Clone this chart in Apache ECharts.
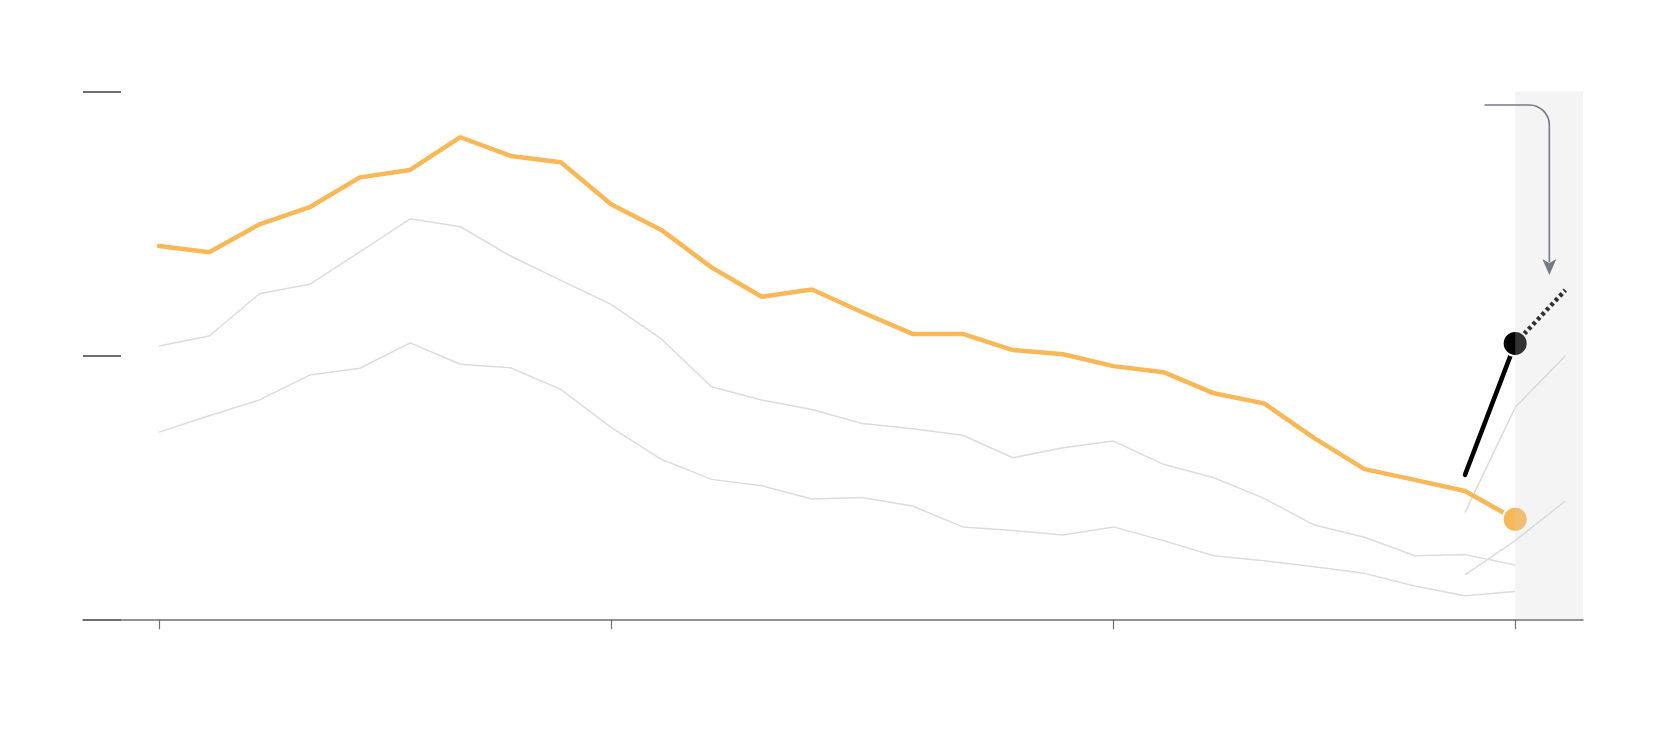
<!DOCTYPE html>
<html>
<head>
<meta charset="utf-8">
<script src="https://cdn.jsdelivr.net/npm/echarts@6/dist/echarts.min.js"></script>
<style>
  html, body { margin: 0; padding: 0; background: #ffffff; }
  #chart { width: 1666px; height: 750px; }
</style>
</head>
<body>
<div id="chart"></div>
<script>
// ---- data (x = period index, y = value) ----
const periods = [0,1,2,3,4,5,6,7,8,9,10,11,12,13,14,15,16,17,18,19,20,21,22,23,24,25,26,27];
const mainSeries = [14.14,13.90,14.96,15.61,16.74,17.02,18.26,17.55,17.31,15.72,14.75,13.33,12.22,12.49,11.63,10.81,10.81,10.20,10.04,9.59,9.36,8.56,8.18,6.86,5.69,5.28,4.86,3.79];
const greyUpper = [10.35,10.73,12.33,12.69,13.92,15.17,14.87,13.76,12.84,11.93,10.62,8.81,8.31,7.95,7.42,7.22,6.97,6.12,6.50,6.75,5.87,5.36,4.58,3.57,3.11,2.41,2.45,2.06];
const greyLower = [7.09,7.71,8.31,9.25,9.51,10.47,9.66,9.53,8.71,7.27,6.06,5.30,5.06,4.56,4.61,4.29,3.50,3.36,3.19,3.50,2.98,2.41,2.22,1.99,1.74,1.26,0.89,1.05];
const shortPeriods = [26, 27, 28];
const shortUpper = [4.04, 8.03, 9.98];
const shortLower = [1.68, 2.98, 4.48];
const jumpPeriods = [26, 27];
const jumpValues = [5.47, 10.45];
const projPeriods = [27, 28];
const projValues = [10.45, 12.47];
const tickPeriods = [0, 9, 19, 27];
const yTicks = [0, 10, 20];
const bandRange = [27, 28.35];          // shaded period
const arrowPath = [26.39, 19.48, 27.68, 13.04]; // startX, y, cornerX, tipY

// ---- build ----
const pairs = (xs, ys) => ys.map((v, i) => [xs[i], v]);
const X_MIN = -1.513, X_MAX = bandRange[1];
const Y_MIN = yTicks[0], Y_MAX = yTicks[yTicks.length - 1];
const grey = '#dcdcdc';
const orange = '#F9B857';
const axisGrey = '#6b6f76';

const chart = echarts.init(document.getElementById('chart'), null, { renderer: 'canvas' });

const greyLine = (data) => ({
  type: 'line', data, symbol: 'none', silent: true, z: 2,
  lineStyle: { color: grey, width: 1.5 }
});

chart.setOption({
  backgroundColor: '#ffffff',
  animation: false,
  grid: { left: 83, right: 83, top: 91.3, bottom: 130.7, containLabel: false },
  xAxis: {
    type: 'value', min: X_MIN, max: X_MAX, z: 1,
    axisLine: { show: true, onZero: false, lineStyle: { color: axisGrey, width: 1.6 } },
    axisTick: { show: true, customValues: tickPeriods, length: 10, lineStyle: { color: axisGrey, width: 1.2 } },
    axisLabel: { show: false },
    splitLine: { show: false }
  },
  yAxis: {
    type: 'value', min: Y_MIN, max: Y_MAX, interval: yTicks[1] - yTicks[0], z: 0,
    axisLine: { show: false, onZero: false },
    axisTick: { show: true, inside: true, length: 38, lineStyle: { color: axisGrey, width: 1.8 } },
    axisLabel: { show: false },
    splitLine: { show: false }
  },
  series: [
    greyLine(pairs(periods, greyUpper)),
    greyLine(pairs(periods, greyLower)),
    greyLine(pairs(shortPeriods, shortUpper)),
    greyLine(pairs(shortPeriods, shortLower)),
    {
      type: 'line', data: pairs(periods, mainSeries), symbol: 'none', z: 3, silent: true,
      lineStyle: { color: orange, width: 4.5, cap: 'round' }
    },
    {
      type: 'line', data: pairs(jumpPeriods, jumpValues), symbol: 'none', z: 3, silent: true,
      lineStyle: { color: '#000000', width: 4.5, cap: 'round' }
    },
    {
      type: 'line', data: pairs(projPeriods, projValues), symbol: 'none', z: 3, silent: true,
      lineStyle: { color: '#000000', width: 4.5, type: [3.5, 3] }
    },
    {
      type: 'scatter', z: 4, silent: true, symbol: 'circle', symbolSize: 25,
      data: [
        { value: [periods[periods.length - 1], mainSeries[mainSeries.length - 1]], itemStyle: { color: orange } },
        { value: [jumpPeriods[1], jumpValues[1]], itemStyle: { color: '#000000' } }
      ],
      itemStyle: { borderColor: '#ffffff', borderWidth: 2, opacity: 1 }
    },
    {
      type: 'custom', z: 5, silent: true, clip: false,
      data: [[bandRange[0], Y_MAX, bandRange[1], Y_MIN]],
      encode: { x: [0, 2], y: [1, 3] },
      renderItem: function (params, api) {
        const p0 = api.coord([api.value(0), api.value(1)]);
        const p1 = api.coord([api.value(2), api.value(3)]);
        return {
          type: 'rect',
          shape: { x: p0[0], y: p0[1], width: p1[0] - p0[0], height: p1[1] - p0[1] },
          style: { fill: 'rgba(210,210,210,0.24)' }
        };
      }
    },
    {
      type: 'custom', z: 6, silent: true, clip: false,
      data: [arrowPath],
      encode: { x: [0, 2], y: [1, 3] },
      renderItem: function (params, api) {
        const s = api.coord([api.value(0), api.value(1)]);
        const c = api.coord([api.value(2), api.value(1)]);
        const t = api.coord([api.value(2), api.value(3)]);
        const r = 20, head = 16, hw = 7;
        const col = '#747a85';
        const d = 'M' + s[0] + ' ' + s[1] +
          ' L' + (c[0] - r) + ' ' + c[1] +
          ' A' + r + ' ' + r + ' 0 0 1 ' + c[0] + ' ' + (c[1] + r) +
          ' L' + t[0] + ' ' + (t[1] - head + 3);
        return {
          type: 'group',
          children: [
            { type: 'path', shape: { pathData: d }, style: { fill: null, stroke: col, lineWidth: 1.6 } },
            { type: 'polygon', shape: { points: [[t[0] - hw, t[1] - head], [t[0], t[1] - head + 4], [t[0] + hw, t[1] - head], [t[0], t[1]]] }, style: { fill: col } }
          ]
        };
      }
    }
  ]
});
</script>
</body>
</html>
